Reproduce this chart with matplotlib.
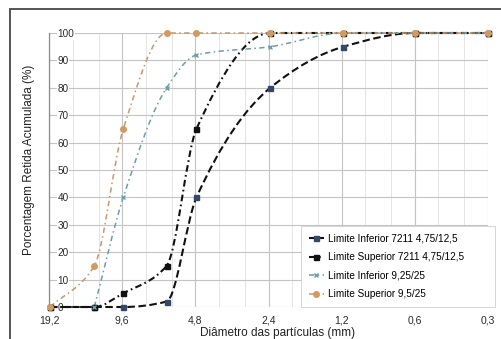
import numpy as np
import matplotlib
matplotlib.use('Agg')
import matplotlib.pyplot as plt
import matplotlib.ticker as ticker
from matplotlib.path import Path
from matplotlib.patches import PathPatch, Rectangle
from matplotlib.lines import Line2D

plt.rcParams['font.family'] = ['Liberation Sans', 'DejaVu Sans']

# abertura das peneiras (mm)
peneiras = [19.0, 12.5, 9.5, 6.3, 4.75, 2.36, 1.18, 0.6, 0.3]

# porcentagem retida acumulada (%)
inf_7211 = [0, 0, 0, 2, 40, 80, 95, 100, 100]
sup_7211 = [0, 0, 5, 15, 65, 100, 100, 100, 100]
inf_925 = [None, 0, 40, 80, 92, 95, 100, 100, 100]
sup_95 = [0, 15, 65, 100, 100, 100, 100, 100, 100]

rotulos = ["Limite Inferior 7211 4,75/12,5",
           "Limite Superior 7211 4,75/12,5",
           "Limite Inferior 9,25/25",
           "Limite Superior 9,5/25"]

ticks_x = [19.2, 9.6, 4.8, 2.4, 1.2, 0.6, 0.3]
ticks_x_lbl = ["19,2", "9,6", "4,8", "2,4", "1,2", "0,6", "0,3"]
ticks_y = list(range(0, 101, 10))


def curva_suave(ax, xs, ys):
    # curva cúbica monótona (Fritsch-Carlson) em coordenadas de tela
    pts = ax.transData.transform(np.column_stack([xs, ys]))
    x, y = pts[:, 0], pts[:, 1]
    h = np.diff(x)
    d = np.diff(y) / h
    n = len(x)
    m = np.zeros(n)
    m[0], m[-1] = d[0], d[-1]
    for k in range(1, n - 1):
        if d[k - 1] * d[k] <= 0:
            m[k] = 0.0
        else:
            w1 = 2 * h[k] + h[k - 1]
            w2 = h[k] + 2 * h[k - 1]
            m[k] = (w1 + w2) / (w1 / d[k - 1] + w2 / d[k])
    verts = [pts[0]]
    codes = [Path.MOVETO]
    for k in range(n - 1):
        c1 = (x[k] + h[k] / 3, y[k] + m[k] * h[k] / 3)
        c2 = (x[k + 1] - h[k] / 3, y[k + 1] - m[k + 1] * h[k] / 3)
        verts += [c1, c2, pts[k + 1]]
        codes += [Path.CURVE4] * 3
    verts = ax.transData.inverted().transform(np.array(verts))
    return Path(verts, codes)


fig = plt.figure(figsize=(5.02, 3.39), dpi=100)
fig.patch.set_facecolor('white')
ax = fig.add_axes([49 / 502, 1 - 307 / 339, 439 / 502, 274 / 339])

ax.set_xscale('log')
ax.set_xlim(19.2, 0.3)
ax.set_ylim(0, 100)

ax.xaxis.set_major_locator(ticker.FixedLocator(ticks_x))
ax.xaxis.set_major_formatter(ticker.FixedFormatter(ticks_x_lbl))
menores = [t * f for t in ticks_x[1:] for f in (1.25, 1.6)]
ax.xaxis.set_minor_locator(ticker.FixedLocator(menores))
ax.xaxis.set_minor_formatter(ticker.NullFormatter())
ax.yaxis.set_major_locator(ticker.FixedLocator(ticks_y))

ax.grid(which='major', color='#c4c4c4', linewidth=0.8)
ax.grid(which='minor', axis='x', color='#e0e0e0', linewidth=0.6)
ax.set_axisbelow(True)
for lado in ['top', 'right', 'bottom']:
    ax.spines[lado].set_visible(False)
ax.spines['left'].set_color('#8a8a8a')
ax.spines['left'].set_linewidth(0.9)

ax.tick_params(axis='x', which='both', length=0, pad=6, labelsize=7.5,
               labelcolor='#2a2a2a')
ax.tick_params(axis='y', length=0, pad=-6, labelsize=7.2, labelcolor='#2a2a2a')
for lbl in ax.get_yticklabels():
    lbl.set_horizontalalignment('left')
    lbl.set_bbox(dict(facecolor='white', edgecolor='none', pad=0.6))

estilos = [
    dict(cor='#111111', ls=(0, (3.6, 1.7)), lw=1.5, mk='s', mc='#34496a', ms=3.6),
    dict(cor='#111111', ls=(0, (3.2, 1.6, 0.8, 1.6)), lw=1.5, mk='s', mc='#111111', ms=3.6),
    dict(cor='#6b9eab', ls=(0, (3.5, 2.2, 1.0, 2.2)), lw=1.1, mk='x', mc='#6b9eab', ms=3.2),
    dict(cor='#c9976a', ls=(0, (3.5, 2.2, 1.0, 2.2)), lw=1.1, mk='o', mc='#d19a62', ms=4.0),
]

series = [inf_7211, sup_7211, inf_925, sup_95]
handles = []
for valores, est, rot in zip(series, estilos, rotulos):
    xs = [p for p, v in zip(peneiras, valores) if v is not None]
    ys = [v for v in valores if v is not None]
    caminho = curva_suave(ax, xs, ys)
    ax.add_patch(PathPatch(caminho, fill=False, edgecolor=est['cor'],
                           linewidth=est['lw'], linestyle=est['ls'],
                           clip_on=False, zorder=3))
    ax.plot(xs, ys, linestyle='none', marker=est['mk'], markersize=est['ms'],
            color=est['mc'], markeredgecolor=est['mc'], markeredgewidth=1.0,
            clip_on=False, zorder=4)
    handles.append(Line2D([], [], color=est['cor'], linestyle=est['ls'],
                          linewidth=est['lw'], marker=est['mk'],
                          markersize=est['ms'], markerfacecolor=est['mc'],
                          markeredgecolor=est['mc'], label=rot))

leg = ax.legend(handles=handles, loc='lower left',
                bbox_to_anchor=((301 - 49) / 439, 0.0, (495 - 301) / 439, 0.28),
                mode='expand', fontsize=7.2, frameon=True, fancybox=False,
                framealpha=1, edgecolor='#d0d0d0', facecolor='white',
                handlelength=1.5, handletextpad=0.4, labelspacing=0.85,
                borderpad=0.8, borderaxespad=0.0)
leg.get_frame().set_linewidth(0.6)
leg.set_zorder(5)

ax.set_xlabel('Diâmetro das partículas (mm)', fontsize=8.5, color='#222222')
ax.xaxis.set_label_coords((278 - 49) / 439, (307 - 327) / 274)
ax.set_ylabel('Porcentagem Retida Acumulada (%)', fontsize=8.5, color='#222222')
ax.yaxis.set_label_coords((35 - 49) / 439, (307 - 160) / 274)

# moldura externa
fig.add_artist(Rectangle((10 / 502, -0.1), 1.2, 1.1 - 9 / 339,
                         transform=fig.transFigure, fill=False,
                         edgecolor='#555555', linewidth=1.4))

fig.savefig('out.png', dpi=100)
